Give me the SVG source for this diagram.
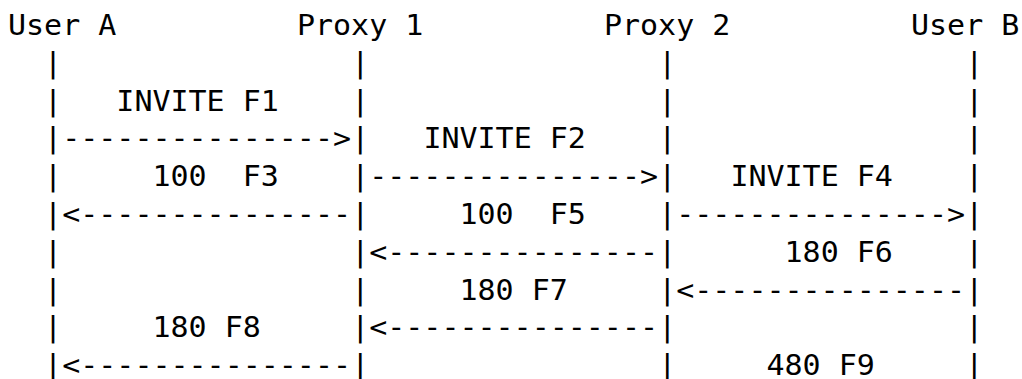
<svg xmlns="http://www.w3.org/2000/svg" width="1022" height="379" viewBox="0 0 1022 379" xml:space="preserve">
<style>
text{font-family:"DejaVu Sans Mono","Liberation Mono",monospace;font-size:30px;fill:#000;white-space:pre}
</style>
<rect width="1022" height="379" fill="#fff"/>
<g transform="scale(1,0.9333)">
<g id="user-a">
<text x="8" y="37.5">User A</text>
<text x="44.12" y="78">|</text><text x="44.12" y="118.5">|</text><text x="44.12" y="159">|</text><text x="44.12" y="199.5">|</text><text x="44.12" y="240">|</text><text x="44.12" y="280.5">|</text><text x="44.12" y="321">|</text><text x="44.12" y="361.5">|</text><text x="44.12" y="402">|</text>
</g>
<g id="proxy-1">
<text x="296.96" y="37.5">Proxy 1</text>
<text x="351.14" y="78">|</text><text x="351.14" y="118.5">|</text><text x="351.14" y="159">|</text><text x="351.14" y="199.5">|</text><text x="351.14" y="240">|</text><text x="351.14" y="280.5">|</text><text x="351.14" y="321">|</text><text x="351.14" y="361.5">|</text><text x="351.14" y="402">|</text>
</g>
<g id="proxy-2">
<text x="603.98" y="37.5">Proxy 2</text>
<text x="658.16" y="78">|</text><text x="658.16" y="118.5">|</text><text x="658.16" y="159">|</text><text x="658.16" y="199.5">|</text><text x="658.16" y="240">|</text><text x="658.16" y="280.5">|</text><text x="658.16" y="321">|</text><text x="658.16" y="361.5">|</text><text x="658.16" y="402">|</text>
</g>
<g id="user-b">
<text x="911" y="37.5">User B</text>
<text x="965.18" y="78">|</text><text x="965.18" y="118.5">|</text><text x="965.18" y="159">|</text><text x="965.18" y="199.5">|</text><text x="965.18" y="240">|</text><text x="965.18" y="280.5">|</text><text x="965.18" y="321">|</text><text x="965.18" y="361.5">|</text><text x="965.18" y="402">|</text>
</g>
<g id="connectors">
<text x="62.18" y="159">---------------&gt;</text>
<text x="369.2" y="199.5">---------------&gt;</text>
<text x="62.18" y="240">&lt;---------------</text>
<text x="676.22" y="240">---------------&gt;</text>
<text x="369.2" y="280.5">&lt;---------------</text>
<text x="676.22" y="321">&lt;---------------</text>
<text x="369.2" y="361.5">&lt;---------------</text>
<text x="62.18" y="402">&lt;---------------</text>
</g>
<g id="labels">
<text x="116.36" y="118.5">INVITE F1</text>
<text x="423.38" y="159">INVITE F2</text>
<text x="152.48" y="199.5">100  F3</text>
<text x="730.4" y="199.5">INVITE F4</text>
<text x="459.5" y="240">100  F5</text>
<text x="784.58" y="280.5">180 F6</text>
<text x="459.5" y="321">180 F7</text>
<text x="152.48" y="361.5">180 F8</text>
<text x="766.52" y="402">480 F9</text>
</g>
</g>
</svg>
